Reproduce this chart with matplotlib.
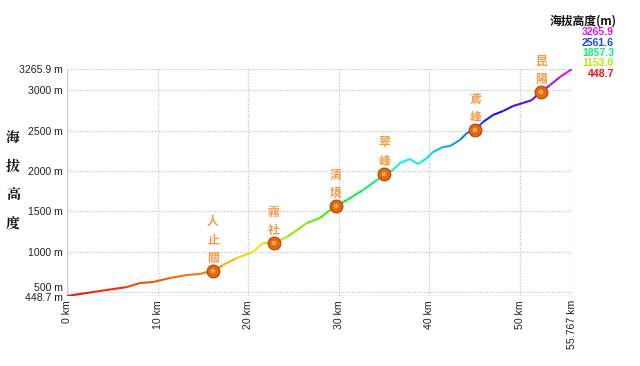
import colorsys
import numpy as np
import matplotlib
matplotlib.use("Agg")
import matplotlib.pyplot as plt
import matplotlib.transforms as mtransforms
from matplotlib.collections import LineCollection

plt.rcParams['font.family'] = ['Liberation Sans', 'Noto Sans CJK TC', 'DejaVu Sans']

# elevation profile (km, m)
dist_km = [0.0, 2.87, 6.63, 8.06, 9.50, 11.37, 13.25, 14.69, 15.46, 16.12,
           17.23, 18.77, 20.54, 21.64, 22.86, 24.29, 26.50, 27.94, 29.04, 29.71,
           30.92, 32.69, 34.23, 35.01, 36.00, 36.77, 37.88, 38.76, 39.75, 40.42,
           41.52, 42.30, 43.40, 44.17, 45.06, 45.94, 47.04, 48.15, 49.25, 50.36,
           51.35, 51.90, 52.34, 53.34, 54.44, 55.767]
elev_m = [448.7, 498, 560, 610, 622, 672, 709, 722, 747, 759,
          833, 920, 995, 1106, 1106, 1181, 1355, 1417, 1516, 1566,
          1640, 1764, 1888, 1963, 2012, 2099, 2149, 2087, 2161, 2236,
          2298, 2310, 2385, 2472, 2509, 2608, 2695, 2744, 2806, 2844,
          2881, 2943, 2980, 3067, 3166, 3265.9]

# stops along the road
stop_names = ['人止關', '霧社', '清境', '翠峰', '鳶峰', '昆陽']
stop_km = [16.12, 22.86, 29.71, 35.01, 45.06, 52.34]
stop_elev = [759, 1106, 1566, 1963, 2509, 2980]

y_ticks = [448.7, 500, 1000, 1500, 2000, 2500, 3000, 3265.9]
y_tick_labels = ['448.7 m', '500 m', '1000 m', '1500 m', '2000 m', '2500 m', '3000 m', '3265.9 m']
x_ticks = [0, 10, 20, 30, 40, 50, 55.767]
x_tick_labels = ['0 km', '10 km', '20 km', '30 km', '40 km', '50 km', '55.767 km']
legend_vals = [3265.9, 2561.6, 1857.3, 1153.0, 448.7]

ELEV_MIN, ELEV_MAX = 448.7, 3265.9


def elev_color(e):
    # hue runs red -> magenta with elevation
    t = (e - ELEV_MIN) / (ELEV_MAX - ELEV_MIN)
    return colorsys.hsv_to_rgb(300.0 / 360.0 * t, 0.92, 0.93)


fig = plt.figure(figsize=(6.4, 3.66), dpi=100)
ax = fig.add_axes([67 / 640, 70 / 366, 505 / 640, 227 / 366])

ax.set_xlim(0, 55.767)
ax.set_ylim(ELEV_MIN, ELEV_MAX)

for x in x_ticks[1:]:
    ax.axvline(x, color='#d4d4d4', lw=0.9, ls=(0, (1.5, 1)), zorder=1)
for y in y_ticks[1:]:
    ax.axhline(y, color='#d4d4d4', lw=0.9, ls=(0, (1.5, 1)), zorder=1)

for s in ax.spines.values():
    s.set_visible(False)
ax.axvline(0, color='#cccccc', lw=1.0, zorder=1)
ax.axhline(ELEV_MIN, color='#cccccc', lw=1.0, zorder=1)

pts = np.column_stack([dist_km, elev_m])
segs = np.stack([pts[:-1], pts[1:]], axis=1)
seg_colors = [elev_color((a + b) / 2) for a, b in zip(elev_m[:-1], elev_m[1:])]
ax.add_collection(LineCollection(segs, colors=seg_colors, linewidths=1.5, zorder=3))

ax.scatter(stop_km, stop_elev, s=85, c='#e2680e', edgecolors='#b04a00', linewidths=0.8, zorder=5)
ax.scatter(stop_km, stop_elev, s=12, c='#f7a35a', edgecolors='none', zorder=6)
for name, x, y in zip(stop_names, stop_km, stop_elev):
    ax.annotate('\n'.join(name), (x, y), xytext=(0, 6), textcoords='offset pixels',
                ha='center', va='bottom', fontsize=8.5, fontweight='bold', color='#f39a45',
                linespacing=1.55, family=['Noto Sans CJK TC', 'DejaVu Sans'])

ax.set_yticks(y_ticks)
ax.set_yticklabels(y_tick_labels, fontsize=7.6, color='#222222')
ax.set_xticks(x_ticks)
ax.set_xticklabels(x_tick_labels, fontsize=7.6, color='#222222', rotation=90)
ax.tick_params(length=0, pad=3)

# the two lowest labels sit close together; nudge them apart like the original
ylabels = ax.get_yticklabels()
ylabels[1].set_transform(ylabels[1].get_transform() +
                         mtransforms.ScaledTranslation(0, 5 / 100, fig.dpi_scale_trans))
ylabels[0].set_transform(ylabels[0].get_transform() +
                         mtransforms.ScaledTranslation(0, -1 / 100, fig.dpi_scale_trans))

fig.text(13 / 640, 1 - 181 / 366, '海\n拔\n高\n度', fontsize=10, fontweight='bold',
         ha='center', va='center', linespacing=2.05, color='#111111',
         family=['Noto Serif CJK TC', 'Noto Sans CJK TC', 'DejaVu Sans'])

fig.text(617 / 640, 1 - 21 / 366, '海拔高度(m)', fontsize=8.5, fontweight='bold',
         ha='right', va='center', color='#111111',
         family=['Noto Sans CJK TC', 'DejaVu Sans'])
for i, v in enumerate(legend_vals):
    fig.text(614 / 640, 1 - (32 + i * 10.5) / 366, f'{v:.1f}', fontsize=7.6, fontweight='bold',
             ha='right', va='center', color=elev_color(v))

fig.savefig('out.png', dpi=100)
